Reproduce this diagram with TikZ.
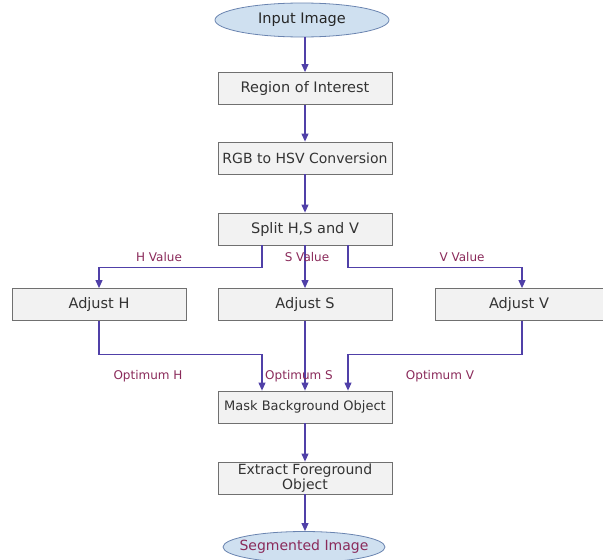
\documentclass[tikz,border=0pt]{standalone}
\usepackage{fontspec}
\setmainfont{DejaVu Sans}
\usetikzlibrary{positioning, shapes.geometric, arrows.meta, calc}

\definecolor{flowc}{HTML}{5040A8}
\definecolor{labc}{HTML}{8A2A5A}
\definecolor{boxfill}{HTML}{F2F2F2}
\definecolor{boxline}{HTML}{707070}
\definecolor{ovfill}{HTML}{CFE0F0}
\definecolor{ovline}{HTML}{6A84B0}

\newcommand{\fsz}[1]{\fontsize{#1}{15}\selectfont}

\tikzset{
  stepbox/.style={rectangle, draw=boxline, fill=boxfill, line width=0.8pt,
    minimum width=174pt, minimum height=32pt, inner sep=1pt, align=center,
    text=black!80, font=\fsz{14.5}},
  endoval/.style={ellipse, draw=ovline, fill=ovfill, line width=0.8pt,
    minimum width=174pt, minimum height=34pt, inner sep=0pt,
    text=black!85, font=\fsz{14.5}},
  flow/.style={-{Triangle[width=7pt,length=8pt]}, draw=flowc, line width=1.1pt},
  vallab/.style={text=labc, font=\fsz{12}, inner sep=1pt}
}

\begin{document}
\begin{tikzpicture}[x=1pt, y=-1pt]
        \useasboundingbox (0,0) rectangle (603,560);

        \node[endoval] (input) at (302,20) {Input Image};
        \node[stepbox] (roi) at (305,88.5) {Region of Interest};
        \node[stepbox, font=\fsz{14}] (hsv) at (305,158) {RGB to HSV Conversion};
        \node[stepbox] (split) at (305,229) {Split H,S and V};

        \node[stepbox] (adjh) at (99,304.5) {Adjust H};
        \node[stepbox] (adjs) at (305,304.5) {Adjust S};
        \node[stepbox, minimum width=168pt] (adjv) at (519,304.5) {Adjust V};

        \node[stepbox, font=\fsz{13}] (mask) at (305,407) {Mask Background Object};
        \node[stepbox, font=\fsz{14}] (extract) at (305,478) {Extract Foreground\\Object};
        \node[endoval, font=\fsz{14}, minimum width=162pt, minimum height=31pt,
          inner xsep=-14pt, text=labc] (seg) at (304,547) {Segmented Image};

        \draw[flow] (input.south -| roi.north) -- (roi);
        \draw[flow] (roi) -- (hsv);
        \draw[flow] (hsv) -- (split);

        \draw[flow] ([xshift=-43pt]split.south) -- ++(0,22) -| (adjh.north);
        \draw[flow] (split) -- (adjs);
        \draw[flow] ([xshift=43pt]split.south) -- ++(0,22) -| ([xshift=3pt]adjv.north);

        \node[vallab] (hval) at (159,257) {H Value};
        \node[vallab] (sval) at (307,257) {S Value};
        \node[vallab] (vval) at (462,257) {V Value};

        \draw[flow] (adjh.south) -- ++(0,34) -| ([xshift=-43pt]mask.north);
        \draw[flow] (adjs) -- (mask);
        \draw[flow] ([xshift=3pt]adjv.south) -- ++(0,34) -| ([xshift=43pt]mask.north);

        \node[vallab] (hopt) at (148,376) {Optimum H};
        \node[vallab] (sopt) at (299,376) {Optimum S};
        \node[vallab] (vopt) at (440,376) {Optimum V};

        \draw[flow] (mask) -- (extract);
        \draw[flow] (extract) -- (extract.south |- seg.north);
      \end{tikzpicture}
\end{document}
